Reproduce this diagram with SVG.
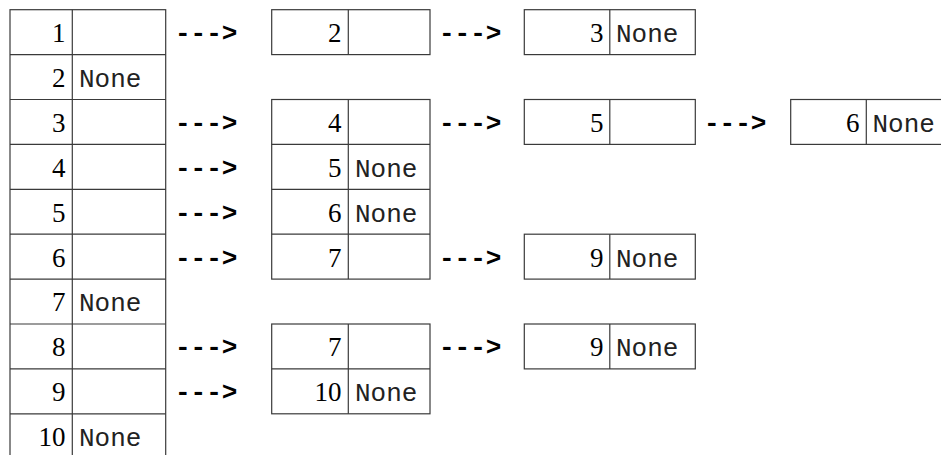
<svg xmlns="http://www.w3.org/2000/svg" width="941" height="455" viewBox="0 0 941 455">
  <style>
    .cell { fill: #ffffff; stroke: #3a3a3a; stroke-width: 1.2; }
    .div { stroke: #3a3a3a; stroke-width: 1.2; }
    text.num { font-family: 'Liberation Serif', 'Times New Roman', serif !important; font-size: 27px; fill: #000; text-anchor: end; }
    text.nil { font-family: 'Liberation Mono', 'Courier New', monospace !important; font-size: 26px; fill: #222; }
    text.arr { font-family: 'Liberation Mono', 'Courier New', monospace !important; font-weight: bold; font-size: 26px; fill: #000; }
  </style>
  <rect width="941" height="455" fill="#ffffff"/>

  <!-- hash table: buckets 1..10 -->
  <g id="table">
    <rect class="cell" x="10" y="9.7" width="155.7" height="449"/>
    <line class="div" x1="72.3" y1="9.7" x2="72.3" y2="460"/>
    <line class="div" x1="10" y1="54.6" x2="165.7" y2="54.6"/>
    <line class="div" x1="10" y1="99.5" x2="165.7" y2="99.5"/>
    <line class="div" x1="10" y1="144.4" x2="165.7" y2="144.4"/>
    <line class="div" x1="10" y1="189.3" x2="165.7" y2="189.3"/>
    <line class="div" x1="10" y1="234.2" x2="165.7" y2="234.2"/>
    <line class="div" x1="10" y1="279.1" x2="165.7" y2="279.1"/>
    <line class="div" x1="10" y1="324" x2="165.7" y2="324"/>
    <line class="div" x1="10" y1="368.9" x2="165.7" y2="368.9"/>
    <line class="div" x1="10" y1="413.8" x2="165.7" y2="413.8"/>
    <text class="num" font-family="Liberation Serif" x="65.5" y="42">1</text>
    <text class="num" font-family="Liberation Serif" x="65.5" y="86.9">2</text>
    <text class="num" font-family="Liberation Serif" x="65.5" y="131.8">3</text>
    <text class="num" font-family="Liberation Serif" x="65.5" y="176.7">4</text>
    <text class="num" font-family="Liberation Serif" x="65.5" y="221.6">5</text>
    <text class="num" font-family="Liberation Serif" x="65.5" y="266.5">6</text>
    <text class="num" font-family="Liberation Serif" x="65.5" y="311.4">7</text>
    <text class="num" font-family="Liberation Serif" x="65.5" y="356.3">8</text>
    <text class="num" font-family="Liberation Serif" x="65.5" y="401.2">9</text>
    <text class="num" font-family="Liberation Serif" x="65.5" y="446.1">10</text>
    <text class="nil" font-family="Liberation Mono" x="79" y="86.9">None</text>
    <text class="nil" font-family="Liberation Mono" x="79" y="311.4">None</text>
    <text class="nil" font-family="Liberation Mono" x="79" y="446.1">None</text>
  </g>

  <!-- second column of chain nodes -->
  <g id="node-r1-c2">
    <rect class="cell" x="271.7" y="9.7" width="158.3" height="44.9"/>
    <line class="div" x1="348.3" y1="9.7" x2="348.3" y2="54.6"/>
    <text class="num" font-family="Liberation Serif" x="341.5" y="42">2</text>
  </g>
  <g id="node-r3-c2">
    <rect class="cell" x="271.7" y="99.5" width="158.3" height="179.6"/>
    <line class="div" x1="348.3" y1="99.5" x2="348.3" y2="279.1"/>
    <line class="div" x1="271.7" y1="144.4" x2="430" y2="144.4"/>
    <line class="div" x1="271.7" y1="189.3" x2="430" y2="189.3"/>
    <line class="div" x1="271.7" y1="234.2" x2="430" y2="234.2"/>
    <text class="num" font-family="Liberation Serif" x="341.5" y="131.8">4</text>
    <text class="num" font-family="Liberation Serif" x="341.5" y="176.7">5</text>
    <text class="num" font-family="Liberation Serif" x="341.5" y="221.6">6</text>
    <text class="num" font-family="Liberation Serif" x="341.5" y="266.5">7</text>
    <text class="nil" font-family="Liberation Mono" x="355" y="176.7">None</text>
    <text class="nil" font-family="Liberation Mono" x="355" y="221.6">None</text>
  </g>
  <g id="node-r8-c2">
    <rect class="cell" x="271.7" y="324" width="158.3" height="89.8"/>
    <line class="div" x1="348.3" y1="324" x2="348.3" y2="413.8"/>
    <line class="div" x1="271.7" y1="368.9" x2="430" y2="368.9"/>
    <text class="num" font-family="Liberation Serif" x="341.5" y="356.3">7</text>
    <text class="num" font-family="Liberation Serif" x="341.5" y="401.2">10</text>
    <text class="nil" font-family="Liberation Mono" x="355" y="401.2">None</text>
  </g>

  <!-- third column of chain nodes -->
  <g id="node-r1-c3">
    <rect class="cell" x="524.3" y="9.7" width="171" height="44.9"/>
    <line class="div" x1="609.8" y1="9.7" x2="609.8" y2="54.6"/>
    <text class="num" font-family="Liberation Serif" x="603.5" y="42">3</text>
    <text class="nil" font-family="Liberation Mono" x="616" y="42">None</text>
  </g>
  <g id="node-r3-c3">
    <rect class="cell" x="524.3" y="99.5" width="171" height="44.9"/>
    <line class="div" x1="609.8" y1="99.5" x2="609.8" y2="144.4"/>
    <text class="num" font-family="Liberation Serif" x="603.5" y="131.8">5</text>
  </g>
  <g id="node-r6-c3">
    <rect class="cell" x="524.3" y="234.2" width="171" height="44.9"/>
    <line class="div" x1="609.8" y1="234.2" x2="609.8" y2="279.1"/>
    <text class="num" font-family="Liberation Serif" x="603.5" y="266.5">9</text>
    <text class="nil" font-family="Liberation Mono" x="616" y="266.5">None</text>
  </g>
  <g id="node-r8-c3">
    <rect class="cell" x="524.3" y="324" width="171" height="44.9"/>
    <line class="div" x1="609.8" y1="324" x2="609.8" y2="368.9"/>
    <text class="num" font-family="Liberation Serif" x="603.5" y="356.3">9</text>
    <text class="nil" font-family="Liberation Mono" x="616" y="356.3">None</text>
  </g>

  <!-- fourth column -->
  <g id="node-r3-c4">
    <rect class="cell" x="790.7" y="99.5" width="170" height="44.9"/>
    <line class="div" x1="866.3" y1="99.5" x2="866.3" y2="144.4"/>
    <text class="num" font-family="Liberation Serif" x="859.5" y="131.8">6</text>
    <text class="nil" font-family="Liberation Mono" x="872.5" y="131.8">None</text>
  </g>

  <!-- pointer arrows -->
  <g id="connectors">
    <text class="arr" font-family="Liberation Mono" x="175" y="41">---&gt;</text>
    <text class="arr" font-family="Liberation Mono" x="175" y="130.8">---&gt;</text>
    <text class="arr" font-family="Liberation Mono" x="175" y="175.7">---&gt;</text>
    <text class="arr" font-family="Liberation Mono" x="175" y="220.6">---&gt;</text>
    <text class="arr" font-family="Liberation Mono" x="175" y="265.5">---&gt;</text>
    <text class="arr" font-family="Liberation Mono" x="175" y="355.3">---&gt;</text>
    <text class="arr" font-family="Liberation Mono" x="175" y="400.2">---&gt;</text>
    <text class="arr" font-family="Liberation Mono" x="439" y="41">---&gt;</text>
    <text class="arr" font-family="Liberation Mono" x="439" y="130.8">---&gt;</text>
    <text class="arr" font-family="Liberation Mono" x="439" y="265.5">---&gt;</text>
    <text class="arr" font-family="Liberation Mono" x="439" y="355.3">---&gt;</text>
    <text class="arr" font-family="Liberation Mono" x="704" y="130.8">---&gt;</text>
  </g>
</svg>
